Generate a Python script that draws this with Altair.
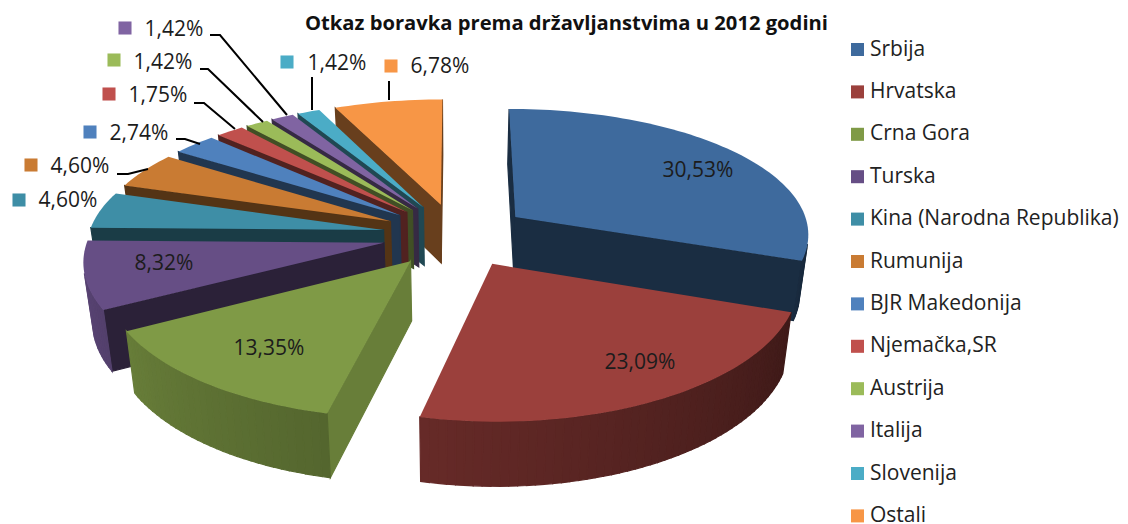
import math
import altair as alt

names = ["Srbija", "Hrvatska", "Crna Gora", "Turska", "Kina (Narodna Republika)", "Rumunija",
         "BJR Makedonija", "Njemačka,SR", "Austrija", "Italija", "Slovenija", "Ostali"]
values = [30.53, 23.09, 13.35, 8.32, 4.60, 4.60, 2.74, 1.75, 1.42, 1.42, 1.42, 6.78]
labels = ["30,53%", "23,09%", "13,35%", "8,32%", "4,60%", "4,60%", "2,74%", "1,75%", "1,42%", "1,42%", "1,42%", "6,78%"]
colors = ["#3e6a9d", "#9b403c", "#7f9a46", "#664e85", "#3e8ea6", "#c97b33",
          "#4f81bd", "#c0504d", "#9bbb59", "#8064a2", "#4bacc6", "#f79646"]
draw_order = [11, 10, 9, 8, 7, 6, 5, 4, 3, 2, 0, 1]

# annotation layout (page pixels): label centre, and key square centre for outside labels
label_x = [698, 640, 269, 164, 68, 80, 139, 158, 163, 174, 337, 440]
label_y = [171, 363, 349, 264, 201, 167, 134, 96, 63, 30, 64, 67]
key_x = [None, None, None, None, 19, 31, 90, 109, 114, 125, 287, 391]
key_y = [None, None, None, None, 200, 165, 132, 94, 60, 28, 62, 66]
leaders = [
    [[117, 174], [128, 174], [148, 169]],
    [[176, 139], [185, 139], [200, 144]],
    [[194, 103], [204, 103], [235, 129]],
    [[200, 69], [208, 69], [263, 122]],
    [[210, 35], [220, 35], [287, 115]],
    [[312, 77], [312, 110]],
    [[389, 81], [389, 100]],
]

# pie geometry: perspective view of an exploded pie
CX, CY = 456, 235
A, B = 295, 127.5
KX, KY = 0.12, 0.137
EXPLODE = 0.25


def shade(col, f):
    r, g, b = (int(col[i:i + 2], 16) for i in (1, 3, 5))
    return "#%02x%02x%02x" % (round(r * f), round(g * f), round(b * f))


def project(u, v):
    return CX + A * u / (1 + KX * v), CY - B * v / (1 + KY * v)


def tip(mid):
    t = math.radians(mid)
    return project(EXPLODE * math.sin(t), EXPLODE * math.cos(t))


def rim(theta, mid):
    t, m = math.radians(theta), math.radians(mid)
    return project(EXPLODE * math.sin(m) + math.sin(t), EXPLODE * math.cos(m) + math.cos(t))


def down(p):
    x, y = p
    return CX + 0.975 * (x - CX), y + 59 + 0.03 * (y - 235)


def signed(ring):
    return sum(ring[i][0] * ring[(i + 1) % len(ring)][1] - ring[(i + 1) % len(ring)][0] * ring[i][1]
               for i in range(len(ring)))


def feature(ring, **props):
    coords = [[round(x, 2), round(y, 2)] for x, y in ring]
    return {"type": "Feature", "properties": props,
            "geometry": {"type": "Polygon", "coordinates": [coords + [coords[0]]]}}


total = sum(values)
starts = [sum(values[:i]) / total * 360 for i in range(len(values))]
ends = [sum(values[:i + 1]) / total * 360 for i in range(len(values))]
PROJ = dict(type="identity", scale=1, translate=[-8, -8])

layers = []
for i in draw_order:
    a0, a1 = starts[i], ends[i]
    mid = (a0 + a1) / 2
    col = colors[i]
    p = tip(mid)
    n = max(2, int((a1 - a0) / 1.5))
    arc = [rim(a0 + (a1 - a0) * k / n, mid) for k in range(n + 1)]
    walls = []
    radial = [(p, arc[0], a0), (arc[-1], p, a1)]
    for u, v, ang in radial:
        q = [u, v, down(v), down(u)]
        if signed(q) < 0:
            walls.append(feature(q, fill=shade(col, 0.82 if 112 < ang < 230 else 0.42)))
    for k in range(n):
        q = [arc[k], arc[k + 1], down(arc[k + 1]), down(arc[k])]
        if signed(q) < 0:
            ang = a0 + (a1 - a0) * (k + 0.5) / n
            f = min(0.92, max(0.36, 0.4 + 0.00315 * (ang - 110)))
            walls.append(feature(q, fill=shade(col, f)))
    if walls:
        layers.append(
            alt.Chart(alt.Data(values=walls)).mark_geoshape(strokeWidth=1.2).encode(
                fill=alt.Fill("properties.fill:N", scale=None),
                stroke=alt.Stroke("properties.fill:N", scale=None),
            ).project(**PROJ)
        )
    top = [feature([p] + arc, name=names[i])]
    layers.append(
        alt.Chart(alt.Data(values=top)).mark_geoshape(strokeWidth=0).encode(
            color=alt.Color(
                "properties.name:N",
                scale=alt.Scale(domain=names, range=colors),
                legend=alt.Legend(
                    title=None, orient="none", legendX=839, legendY=31,
                    symbolType="square", symbolSize=170, symbolStrokeWidth=0,
                    labelFont="Open Sans", labelFontSize=21, labelColor="#222222",
                    labelLimit=320, labelOffset=2, rowPadding=20.4,
                ),
            )
        ).project(**PROJ)
    )

leader_features = [{"type": "Feature", "properties": {},
                    "geometry": {"type": "LineString", "coordinates": c}} for c in leaders]
layers.append(
    alt.Chart(alt.Data(values=leader_features))
    .mark_geoshape(filled=False, stroke="#000000", strokeWidth=2)
    .project(**PROJ)
)

rows = [{"t": labels[i], "x": label_x[i] - 8, "y": label_y[i] - 8} for i in range(len(labels))]
layers.append(
    alt.Chart(alt.Data(values=rows)).mark_text(
        font="Open Sans", fontSize=21, color="#1c1c1c", align="center", baseline="middle"
    ).encode(
        x=alt.X("x:Q", scale=None), y=alt.Y("y:Q", scale=None), text="t:N"
    )
)
key_rows = [{"x": key_x[i] - 8, "y": key_y[i] - 8, "c": colors[i]} for i in range(len(labels)) if key_x[i]]
layers.append(
    alt.Chart(alt.Data(values=key_rows)).mark_square(size=170, opacity=1).encode(
        x=alt.X("x:Q", scale=None), y=alt.Y("y:Q", scale=None),
        fill=alt.Fill("c:N", scale=None),
    )
)

chart = alt.layer(*layers).properties(
    width=1112, height=516, padding=0,
    autosize=alt.AutoSizeParams(type="none"),
    background="#ffffff",
    title=alt.TitleParams(
        "Otkaz boravka prema državljanstvima  u 2012 godini",
        anchor="start", frame="group", dx=297, dy=30,
        font="Open Sans", fontSize=20.2, fontWeight="bold", color="#111111",
    ),
).configure_view(stroke=None)

chart.save("out.html", embed_options={"renderer": "svg", "actions": False})
